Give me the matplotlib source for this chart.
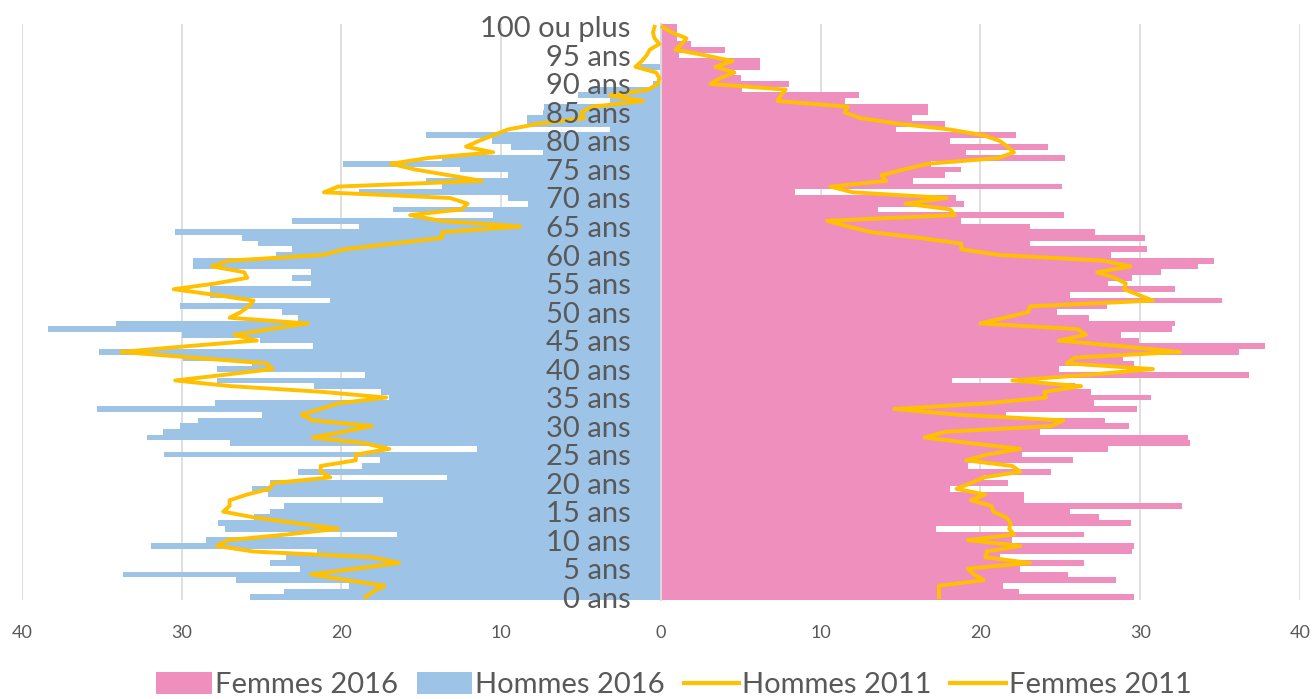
"""Pyramide des âges 2016 vs 2011 (Femmes à droite, Hommes à gauche)."""
import numpy as np
import matplotlib
matplotlib.use('Agg')
import matplotlib.pyplot as plt
from matplotlib.patches import Patch
from matplotlib.lines import Line2D

plt.rcParams.update({
    'font.family': ['Lato', 'DejaVu Sans'],
    'figure.dpi': 100,
})

# ── Data (ages 0 .. 100 ou plus) ──
ages = np.arange(0, 101)

femmes_2016 = [
    29.6, 22.4, 21.4, 28.5, 25.5, 22.5, 26.5, 21.2, 29.5, 29.6,
    22.0, 26.5, 17.2, 29.4, 27.4, 25.6, 32.6, 22.7, 22.7, 18.1,
    21.7, 20.2, 24.4, 19.2, 25.8, 22.6, 28.0, 33.1, 33.0, 23.7,
    29.3, 27.8, 21.6, 29.8, 27.1, 30.7, 26.9, 25.9, 18.2, 36.8,
    24.9, 29.6, 28.9, 36.2, 37.8, 29.9, 28.8, 32.0, 32.2, 26.8,
    24.8, 27.9, 35.1, 25.6, 32.2, 28.0, 29.5, 31.3, 33.6, 34.6,
    28.2, 30.4, 23.1, 30.3, 27.2, 23.1, 18.8, 25.2, 13.6, 19.0,
    18.5, 8.4, 25.1, 15.8, 17.8, 18.8, 16.9, 25.3, 19.1, 24.2,
    18.1, 22.2, 14.7, 17.8, 15.7, 16.7, 16.7, 11.5, 12.4, 5.1,
    8.0, 5.0, 4.6, 6.2, 6.2, 1.1, 4.0, 1.9, 1.0, 1.0,
    1.0,
]

hommes_2016 = [
    25.7, 23.6, 19.5, 26.6, 33.7, 22.6, 24.5, 23.5, 21.5, 31.9,
    28.5, 16.5, 27.3, 27.7, 25.5, 24.5, 23.6, 17.4, 24.6, 25.6,
    24.5, 13.4, 22.7, 18.7, 17.6, 31.1, 11.5, 27.0, 32.2, 31.2,
    30.1, 29.0, 25.0, 35.3, 27.9, 17.0, 17.5, 21.7, 27.8, 18.5,
    27.8, 25.6, 29.9, 35.2, 21.8, 25.1, 30.0, 38.4, 34.1, 22.7,
    23.7, 30.1, 20.7, 28.2, 28.2, 21.9, 23.1, 21.9, 29.3, 29.3,
    24.1, 23.1, 25.2, 26.2, 30.4, 18.9, 23.1, 10.5, 16.8, 8.3,
    9.6, 18.9, 13.7, 14.7, 9.6, 12.6, 19.9, 13.7, 7.4, 9.4,
    10.6, 14.7, 3.2, 8.4, 8.4, 7.4, 7.3, 3.2, 5.2, 4.4,
    0.5, 0.0, 0.0, 1.3, 0.0, 0.0, 0.0, 0.0, 0.0, 0.0,
    0.0,
]

hommes_2011 = [
    18.5, 18.0, 17.3, 19.7, 21.9, 19.1, 16.4, 18.1, 25.5, 27.8,
    27.1, 23.4, 20.2, 22.9, 25.5, 27.4, 27.0, 27.0, 25.9, 24.5,
    24.3, 20.7, 21.3, 21.3, 19.1, 19.1, 17.0, 18.6, 21.8, 19.9,
    18.1, 21.8, 22.5, 21.3, 20.2, 17.2, 21.2, 26.9, 30.4, 27.3,
    24.3, 24.7, 29.3, 33.8, 29.7, 25.3, 26.7, 24.5, 22.1, 27.0,
    26.3, 25.8, 25.5, 27.9, 30.5, 27.9, 25.9, 26.1, 28.1, 27.1,
    21.2, 19.8, 16.8, 13.7, 13.7, 8.8, 13.8, 15.7, 12.5, 12.1,
    13.2, 21.1, 20.2, 11.2, 13.3, 15.4, 16.9, 14.6, 10.5, 12.2,
    11.4, 10.5, 9.6, 7.7, 4.8, 5.0, 4.3, 1.1, 3.2, 0.8,
    0.2, 0.1, 0.3, 1.6, 1.2, 0.9, 0.7, 0.1, 0.4, 0.5,
    0.4,
]

femmes_2011 = [
    17.4, 17.4, 17.4, 20.2, 19.6, 19.2, 23.1, 20.3, 20.4, 22.5,
    19.2, 22.1, 21.8, 21.9, 21.6, 20.8, 20.7, 19.4, 20.3, 18.5,
    19.4, 20.2, 22.5, 22.0, 19.1, 20.4, 22.5, 19.4, 16.5, 17.8,
    24.4, 25.2, 18.6, 14.6, 20.4, 24.1, 24.0, 26.3, 22.0, 26.8,
    30.8, 25.4, 25.9, 32.5, 28.8, 24.9, 26.6, 26.1, 20.0, 21.5,
    23.0, 23.1, 30.8, 29.9, 29.0, 29.1, 28.4, 27.3, 29.4, 27.7,
    21.2, 18.8, 18.8, 16.2, 13.2, 11.7, 10.4, 18.4, 18.1, 15.3,
    17.9, 12.0, 10.6, 14.1, 13.8, 15.2, 16.7, 21.1, 22.1, 21.7,
    21.2, 20.2, 18.1, 14.9, 12.5, 11.5, 11.7, 7.3, 7.5, 7.8,
    3.1, 3.7, 4.6, 3.4, 4.5, 2.8, 0.9, 1.3, 1.6, 0.7,
    0.1,
]

age_ticks = list(range(0, 101, 5))
age_labels = [f'{a} ans' for a in range(0, 100, 5)] + ['100 ou plus']
x_ticks = list(range(-40, 41, 10))

PINK = '#EF8FBE'
BLUE = '#9DC3E6'
GOLD = '#FFC000'
GRID = '#D9D9D9'
TXT = '#595959'

# ── Figure ──
fig = plt.figure(figsize=(13.14, 6.99))
ax = fig.add_axes([0.0167, 0.1416, 0.9726, 0.824])

ax.barh(ages, femmes_2016, height=1.0, color=PINK, linewidth=0, zorder=2)
ax.barh(ages, -np.array(hommes_2016), height=1.0, color=BLUE, linewidth=0, zorder=2)

ax.plot(-np.array(hommes_2011), ages, color=GOLD, linewidth=2.8, zorder=4,
        solid_joinstyle='round')
ax.plot(femmes_2011, ages, color=GOLD, linewidth=2.8, zorder=4,
        solid_joinstyle='round')

ax.set_xlim(-40, 40)
ax.set_ylim(-0.5, 100.5)

# vertical gridlines
ax.set_xticks(x_ticks)
ax.set_xticklabels([str(abs(t)) for t in x_ticks])
ax.xaxis.grid(True, color=GRID, linewidth=1.2, zorder=0)
ax.set_axisbelow(True)
ax.tick_params(axis='x', length=0, pad=18, labelsize=13, labelcolor=TXT)

# age labels sit next to the central axis, on top of the bars
ax.spines['left'].set_position(('data', 0))
ax.spines['left'].set_color(GRID)
ax.spines['left'].set_linewidth(1.5)
ax.spines['left'].set_zorder(3)
for s in ['top', 'right', 'bottom']:
    ax.spines[s].set_visible(False)
ax.set_yticks(age_ticks)
ax.set_yticklabels(age_labels)
ax.tick_params(axis='y', length=0, pad=22, labelsize=21, labelcolor=TXT)
ax.yaxis.set_zorder(5)

# ── Legend ──
handles = [
    Patch(facecolor=PINK, edgecolor='none'),
    Patch(facecolor=BLUE, edgecolor='none'),
    Line2D([0], [0], color=GOLD, linewidth=3.0),
    Line2D([0], [0], color=GOLD, linewidth=3.0),
]
fig.legend(handles, ['Femmes 2016', 'Hommes 2016', 'Hommes 2011', 'Femmes 2011'],
           loc='center', bbox_to_anchor=(0.513, 0.02), ncol=4, frameon=False,
           fontsize=21, labelcolor=TXT, handlelength=1.9, handleheight=0.8,
           handletextpad=0.1, columnspacing=0.65)

plt.savefig('out.png', dpi=100)
plt.close()
